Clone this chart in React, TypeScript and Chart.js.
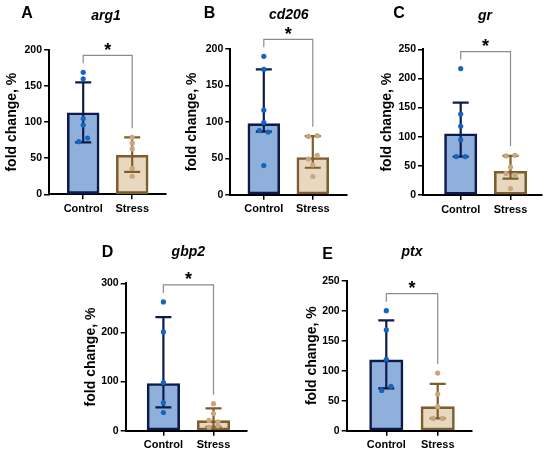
import React, { useEffect, useRef } from "react";
import { Chart, registerables } from "chart.js";

Chart.register(...registerables);

const groups = ["Control", "Stress"];
const FONT = "'Liberation Sans', Arial, sans-serif";

const controlFill = "#8fb0db";
const controlBorder = "#0d1b4b";
const controlPoint = "#1565c0";
const stressFill = "#e9d8c0";
const stressBorder = "#7d5e2d";
const stressPoint = "#c9a77c";

// A - arg1
const arg1Control = [169, 160, 105, 96, 73, 78];
const arg1ControlJit = [0, 0, 0, 0, -1, 1];
const arg1Stress = [79, 71, 63, 36, 25];
const arg1StressJit = [0, 0, 0, 0, 0];
const arg1Mean = [113, 54];
const arg1Low = [72, 31];
const arg1High = [155, 79];

// B - cd206
const cd206Control = [190, 172, 116, 99, 88, 86, 40];
const cd206ControlJit = [0, 0, 0, 0, -1, 1, 0];
const cd206Stress = [80, 81, 49, 54, 41, 25];
const cd206StressJit = [-1, 1, -1, 1, 0, 0];
const cd206Mean = [97.5, 51];
const cd206Low = [86.5, 37];
const cd206High = [172, 80.5];

// C - gr
const grControl = [217, 139, 118, 95, 66, 66];
const grControlJit = [0, 0, 0, 0, -1, 1];
const grStress = [67, 68, 48, 37, 34, 11];
const grStressJit = [-1, 1, 0, -1, 1, 0];
const grMean = [105, 40.6];
const grLow = [66, 28];
const grHigh = [158.5, 67];

// D - gbp2
const gbp2Control = [262, 201, 98, 57, 37];
const gbp2ControlJit = [0, 0, 0, 0, 0];
const gbp2Stress = [55, 35, 21, 18, 10, 7];
const gbp2StressJit = [0, 0, -1, 1, 1, -1];
const gbp2Mean = [96, 20.4];
const gbp2Low = [47.5, 8];
const gbp2High = [231, 45.5];

// E - ptx
const ptxControl = [200, 168, 119, 74, 67];
const ptxControlJit = [0, 0, 0, 1, -1];
const ptxStress = [96, 61, 40, 20.5, 20.5];
const ptxStressJit = [0, 0, 0, -1, 1];
const ptxMean = [118, 40];
const ptxLow = [70.5, 20.5];
const ptxHigh = [184, 78];

const yMaxes = [200, 200, 250, 300, 250];
const ySteps = [50, 50, 50, 100, 50];

type PanelData = {
  letter: string;
  gene: string;
  control: number[];
  controlJit: number[];
  stress: number[];
  stressJit: number[];
  mean: number[];
  low: number[];
  high: number[];
  yMax: number;
  yStep: number;
};

type Box = {
  plotLeft: number;
  plotTop: number;
  plotRight: number;
  plotBottom: number;
  c0: number;
  c1: number;
  yLabelX: number;
  titleX: number;
  titleY: number;
  letterX: number;
  letterY: number;
  top: number;
};

const panels: PanelData[] = [
  { letter: "A", gene: "arg1", control: arg1Control, controlJit: arg1ControlJit, stress: arg1Stress, stressJit: arg1StressJit, mean: arg1Mean, low: arg1Low, high: arg1High, yMax: yMaxes[0], yStep: ySteps[0] },
  { letter: "B", gene: "cd206", control: cd206Control, controlJit: cd206ControlJit, stress: cd206Stress, stressJit: cd206StressJit, mean: cd206Mean, low: cd206Low, high: cd206High, yMax: yMaxes[1], yStep: ySteps[1] },
  { letter: "C", gene: "gr", control: grControl, controlJit: grControlJit, stress: grStress, stressJit: grStressJit, mean: grMean, low: grLow, high: grHigh, yMax: yMaxes[2], yStep: ySteps[2] },
  { letter: "D", gene: "gbp2", control: gbp2Control, controlJit: gbp2ControlJit, stress: gbp2Stress, stressJit: gbp2StressJit, mean: gbp2Mean, low: gbp2Low, high: gbp2High, yMax: yMaxes[3], yStep: ySteps[3] },
  { letter: "E", gene: "ptx", control: ptxControl, controlJit: ptxControlJit, stress: ptxStress, stressJit: ptxStressJit, mean: ptxMean, low: ptxLow, high: ptxHigh, yMax: yMaxes[4], yStep: ySteps[4] },
];

// layout of each panel on the page (pixels)
const boxes: Box[] = [
  { plotLeft: 49, plotTop: 50, plotRight: 166, plotBottom: 194.3, c0: 83.2, c1: 132.2, yLabelX: 12, titleX: 106, titleY: 16.5, letterX: 27, letterY: 13.5, top: 0 },
  { plotLeft: 230.3, plotTop: 49, plotRight: 346.7, plotBottom: 194.7, c0: 263.8, c1: 312.8, yLabelX: 192.5, titleX: 288.8, titleY: 15, letterX: 209.5, letterY: 13.5, top: 0 },
  { plotLeft: 423, plotTop: 49.3, plotRight: 541.7, plotBottom: 195, c0: 460.7, c1: 510.5, yLabelX: 387.5, titleX: 485, titleY: 16, letterX: 399, letterY: 13.5, top: 0 },
  { plotLeft: 125.7, plotTop: 283.3, plotRight: 246.7, plotBottom: 430.7, c0: 163.4, c1: 213.5, yLabelX: 91, titleX: 188.3, titleY: 251.7, letterX: 107.5, letterY: 252.7, top: 232 },
  { plotLeft: 346.7, plotTop: 280.7, plotRight: 471.7, plotBottom: 430.7, c0: 386.3, c1: 437.7, yLabelX: 312.5, titleX: 412, titleY: 251.7, letterX: 327.5, letterY: 255, top: 232 },
];

const SPREAD = 0.09;

const Panel: React.FC<{ d: PanelData; b: Box }> = ({ d, b }) => {
  const ref = useRef<HTMLCanvasElement>(null);

  const left = Math.floor(b.yLabelX - 8.4);
  const top = b.top;
  const right = Math.ceil(b.plotRight + 6);
  const bottom = Math.ceil(b.plotBottom + 24);
  const unit = b.c1 - b.c0;
  const xMin = -(b.c0 - b.plotLeft) / unit;
  const xMax = 1 + (b.plotRight - b.c1) / unit;

  useEffect(() => {
    if (!ref.current) return;
    const ctx = ref.current.getContext("2d");
    if (!ctx) return;

    const pts = [
      ...d.control.map((v, i) => ({ x: 0 + d.controlJit[i] * SPREAD, y: v })),
      ...d.stress.map((v, i) => ({ x: 1 + d.stressJit[i] * SPREAD, y: v })),
    ];
    const ptColors = [
      ...d.control.map(() => controlPoint),
      ...d.stress.map(() => stressPoint),
    ];
    const borders = [controlBorder, stressBorder];

    const overlay = {
      id: "overlay",
      afterDatasetDraw(chart: any, args: any) {
        if (args.index !== 1) return;
        const xs = chart.scales.x;
        const ys = chart.scales.y;
        const c = chart.ctx;
        c.save();
        c.lineWidth = 2.2;
        for (let i = 0; i < 2; i++) {
          const x = xs.getPixelForValue(i);
          const yl = ys.getPixelForValue(d.low[i]);
          const yh = ys.getPixelForValue(d.high[i]);
          c.strokeStyle = borders[i];
          c.beginPath();
          c.moveTo(x, yh);
          c.lineTo(x, yl);
          c.moveTo(x - 8, yh);
          c.lineTo(x + 8, yh);
          c.moveTo(x - 8, yl);
          c.lineTo(x + 8, yl);
          c.stroke();
        }
        c.restore();
      },
      afterDraw(chart: any) {
        const xs = chart.scales.x;
        const ys = chart.scales.y;
        const c = chart.ctx;
        const x0 = xs.getPixelForValue(0);
        const x1 = xs.getPixelForValue(1);
        const top0 = Math.max(...d.control, d.high[0]);
        const top1 = Math.max(...d.stress, d.high[1]);
        const leg0 = ys.getPixelForValue(top0) - 9;
        const leg1 = ys.getPixelForValue(top1) - 9;
        const by = Math.min(leg0, leg1) - 8;
        c.save();
        c.strokeStyle = "#8c8c8c";
        c.lineWidth = 1.2;
        c.beginPath();
        c.moveTo(x0, leg0);
        c.lineTo(x0, by);
        c.lineTo(x1, by);
        c.lineTo(x1, leg1);
        c.stroke();
        c.fillStyle = "#000";
        c.textAlign = "center";
        c.textBaseline = "alphabetic";
        c.font = `bold 18px ${FONT}`;
        c.fillText("*", (x0 + x1) / 2, by + 0.5);
        c.textBaseline = "middle";
        c.font = `italic bold 14px ${FONT}`;
        c.fillText(d.gene, b.titleX - left, b.titleY - top);
        c.font = `bold 16px ${FONT}`;
        c.fillText(d.letter, b.letterX - left, b.letterY - top);
        c.restore();
      },
    };

    const chart = new Chart(ctx, {
      type: "bar",
      data: {
        datasets: [
          {
            type: "scatter",
            data: pts,
            xAxisID: "x",
            yAxisID: "y",
            order: 0,
            pointRadius: 2.6,
            pointBorderWidth: 0,
            pointBackgroundColor: ptColors,
          } as any,
          {
            type: "bar",
            data: [
              { x: 0, y: d.mean[0] },
              { x: 1, y: d.mean[1] },
            ],
            xAxisID: "x",
            yAxisID: "y",
            order: 1,
            backgroundColor: [controlFill, stressFill],
            borderColor: borders,
            borderWidth: 2.6,
            borderSkipped: false,
            barThickness: unit * 0.65,
          } as any,
        ],
      },
      options: {
        animation: false,
        responsive: true,
        maintainAspectRatio: false,
        events: [],
        layout: {
          padding: { top: b.plotTop - top, right: right - b.plotRight, left: 0, bottom: 0 },
        },
        plugins: {
          legend: { display: false },
          tooltip: { enabled: false },
          title: { display: false },
        },
        scales: {
          x: {
            type: "linear",
            min: xMin,
            max: xMax,
            offset: false,
            bounds: "data",
            afterBuildTicks: (scale: any) => {
              scale.ticks = [{ value: 0 }, { value: 1 }];
            },
            afterFit: (scale: any) => {
              scale.height = bottom - b.plotBottom;
            },
            border: { display: true, color: "#000", width: 2 },
            grid: { display: true, offset: false, drawOnChartArea: false, drawTicks: true, tickLength: 5, color: "#000", lineWidth: 1.5 },
            ticks: {
              color: "#000",
              padding: 3,
              maxRotation: 0,
              autoSkip: false,
              includeBounds: false,
              font: { family: FONT, size: 11, weight: "bold" },
              callback: (v: any) => groups[v as number] ?? "",
            },
          },
          y: {
            type: "linear",
            min: 0,
            max: d.yMax,
            afterFit: (scale: any) => {
              scale.width = b.plotLeft - left;
            },
            border: { display: true, color: "#000", width: 2 },
            grid: { display: true, drawOnChartArea: false, drawTicks: true, tickLength: 5, color: "#000", lineWidth: 1.5 },
            ticks: {
              stepSize: d.yStep,
              color: "#000",
              padding: 2,
              font: { family: FONT, size: 10.5, weight: "bold" },
            },
            title: {
              display: true,
              text: "fold change, %",
              color: "#000",
              padding: { top: b.yLabelX - 8.4 - left, bottom: 0 },
              font: { family: FONT, size: 14, weight: "bold" },
            },
          },
        },
      } as any,
      plugins: [overlay],
    });

    return () => {
      chart.destroy();
    };
  }, []);

  return (
    <div
      style={{
        position: "absolute",
        left,
        top,
        width: right - left,
        height: bottom - top,
      }}
    >
      <canvas ref={ref} />
    </div>
  );
};

const App: React.FC = () => {
  return (
    <div
      style={{
        position: "absolute",
        left: 0,
        top: 0,
        width: 550,
        height: 455,
        background: "#fff",
        overflow: "hidden",
      }}
    >
      {panels.map((d, i) => (
        <Panel key={d.letter} d={d} b={boxes[i]} />
      ))}
    </div>
  );
};

export default App;
